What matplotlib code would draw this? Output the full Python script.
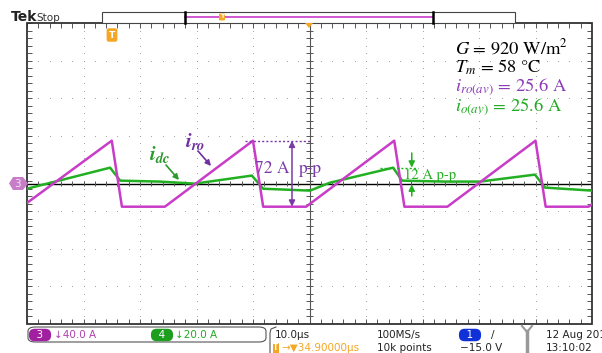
import numpy as np
import matplotlib.pyplot as plt
from matplotlib.patches import Rectangle, FancyBboxPatch, Polygon
from matplotlib.collections import LineCollection

plt.rcParams['mathtext.fontset'] = 'stix'

# screen time 0..100 us (10 us/div), currents in A
ro_t = [0, 15.0, 16.8, 24.4, 40.0, 41.8, 49.4, 65.0, 66.8, 74.4, 90.0, 91.8, 99.4, 100]
ro_a = [-20.5, 45.7, -24.5, -24.5, 45.7, -24.5, -24.5, 45.7, -24.5, -24.5, 45.7, -24.5, -24.5, -21.8]
dc_t = [0, 14.7, 16.5, 23.5, 29.7, 39.8, 41.8, 50.1, 53.6, 64.8, 66.4, 74.0, 80.2, 89.9, 91.7, 100]
dc_a = [-2.7, 8.5, 1.6, 1.1, 0.0, 4.3, -2.7, -3.7, 0.5, 8.5, 1.6, 1.1, 1.1, 4.8, -2.1, -3.7]

ro_scale = 40.0   # A/div, channel 3
dc_scale = 20.0   # A/div, channel 4
zero_div = -0.27  # ground level of both channels

W, H = 602, 353
fig = plt.figure(figsize=(W / 100, H / 100), dpi=100)
fig.patch.set_facecolor('white')

# screen area in pixels
L, T, R, B = 27, 23, 592, 324
ax = fig.add_axes([L / W, 1 - B / H, (R - L) / W, (B - T) / H])
ax.set_xlim(0, 100)
ax.set_ylim(-4, 4)
ax.axis('off')


def F(x, y):
    # figure pixel -> figure fraction
    return x / W, 1 - y / H


def P(x, y):
    # figure pixel -> data coords of the screen
    return (x - L) / (R - L) * 100, ((T + B) / 2 - y) / ((B - T) / 8)


# graticule dots
gx, gy = [], []
for k in range(1, 10):
    if k == 5:
        continue
    for yy in np.arange(-4, 4.01, 0.2):
        gx.append(k * 10)
        gy.append(yy)
for k in [-3, -2, -1, 1, 2, 3]:
    for xx in np.arange(0, 100.1, 2):
        gx.append(xx)
        gy.append(k)
ax.scatter(gx, gy, s=0.6, color='#9a9a9a', linewidths=0, zorder=1)

# center vertical line and zero line with ticks
ax.plot([50, 50], [-4, 4], color='#555555', lw=0.8, zorder=2)
ax.plot([0, 100], [zero_div, zero_div], color='black', lw=1.0, zorder=2)
segs = []
for yy in np.arange(-4, 4.01, 0.2):
    segs.append([(49.3, yy), (50.7, yy)])
    segs.append([(0, yy), (0.9, yy)])
    segs.append([(99.1, yy), (100, yy)])
for xx in np.arange(0, 100.1, 2):
    segs.append([(xx, zero_div - 0.07), (xx, zero_div + 0.07)])
    segs.append([(xx, 4), (xx, 3.88)])
    segs.append([(xx, -4), (xx, -3.88)])
ax.add_collection(LineCollection(segs, colors='#555555', linewidths=0.7, zorder=2))
ax.add_patch(Rectangle((0, -4), 100, 8, fill=False, ec='#333333', lw=1.3, zorder=3,
                       clip_on=False))

# traces
green = '#22b022'
magenta = '#c83cc8'
ax.plot(dc_t, zero_div + np.array(dc_a) / dc_scale, color=green, lw=1.8, zorder=4)
ax.plot(ro_t, zero_div + np.array(ro_a) / ro_scale, color=magenta, lw=1.8, zorder=5)

# 72 A p-p annotation
violet = '#7a3aa8'
ro_hi = zero_div + max(ro_a) / ro_scale
ro_lo = zero_div + min(ro_a) / ro_scale
ax.plot([38.6, 50.0], [ro_hi, ro_hi], ls=(0, (1.5, 1.5)), color=violet, lw=1.0, zorder=6)
ax.annotate('', xy=(46.9, ro_hi), xytext=(46.9, ro_lo),
            arrowprops=dict(arrowstyle='<|-|>', color=violet, lw=1.1,
                            mutation_scale=9, shrinkA=0, shrinkB=0), zorder=6)
ax.text(46.4, P(0, 173)[1], '72 A', ha='right', va='baseline', color=violet,
        fontsize=12.5, family='STIXGeneral', zorder=6)
ax.text(48.1, P(0, 173)[1], 'p-p', ha='left', va='baseline', color=violet,
        fontsize=12.5, family='STIXGeneral', zorder=6)

# 12 A p-p annotation
dc_hi = zero_div + max(dc_a) / dc_scale
ax.plot([62.5, 69.2], [dc_hi, dc_hi], ls=(0, (1.5, 1.5)), color=green, lw=1.0, zorder=6)
ax.annotate('', xy=(68.1, dc_hi), xytext=(68.1, P(0, 153)[1]),
            arrowprops=dict(arrowstyle='-|>', color=green, lw=1.1,
                            mutation_scale=9, shrinkA=0, shrinkB=0), zorder=6)
ax.annotate('', xy=(68.1, P(0, 184.5)[1]), xytext=(68.1, P(0, 196)[1]),
            arrowprops=dict(arrowstyle='-|>', color=green, lw=1.1,
                            mutation_scale=9, shrinkA=0, shrinkB=0), zorder=6)
ax.text(66.7, P(0, 179)[1], '12 A p-p', ha='left', va='baseline', color=green,
        fontsize=10.5, family='STIXGeneral', zorder=6)

# trace labels
ax.text(*P(185, 147), r'$\mathbfit{i_{ro}}$', color='#7030a0', fontsize=15,
        va='baseline', zorder=7)
ax.annotate('', xy=P(211, 166), xytext=P(198, 151),
            arrowprops=dict(arrowstyle='-|>', color='#7030a0', lw=1.2,
                            mutation_scale=8, shrinkA=0, shrinkB=0), zorder=7)
ax.text(*P(149, 160), r'$\mathbfit{i_{dc}}$', color='#2a9a2a', fontsize=15,
        va='baseline', zorder=7)
ax.annotate('', xy=P(179, 180), xytext=P(166, 165),
            arrowprops=dict(arrowstyle='-|>', color='#2a9a2a', lw=1.2,
                            mutation_scale=8, shrinkA=0, shrinkB=0), zorder=7)

# operating point block
info = [(r'$G$ = 920 W/m$^2$', 'black', 54),
        (r'$T_m$ = 58 °C', 'black', 73),
        (r'$i_{ro(av)}$ = 25.6 A', '#8a3ab8', 91),
        (r'$i_{o(av)}$ = 25.6 A', '#22aa22', 111)]
for s, c, yb in info:
    fig.text(*F(455, yb), s, color=c, fontsize=13.3, family='STIXGeneral', va='baseline')

# --- scope chrome ---
fig.text(*F(11, 21), 'Tek', fontsize=10, fontweight='bold', va='baseline', color='#222222')
fig.text(*F(36, 21), 'Stop', fontsize=7.5, va='baseline', color='#333333')

fig.add_artist(Rectangle(F(102, 23), 413 / W, 11 / H, transform=fig.transFigure,
                         fill=True, fc='white', ec='#444444', lw=0.8))
fig.add_artist(plt.Line2D([185 / W, 433 / W], [1 - 17 / H] * 2, color=magenta, lw=1.2,
                          transform=fig.transFigure))
for xb in (185, 433):
    fig.add_artist(plt.Line2D([xb / W] * 2, [1 - 12 / H, 1 - 23 / H], color='black',
                              lw=1.8, transform=fig.transFigure))

orange = '#f5a623'
fig.text(*F(222, 17), 'T', fontsize=4.5, color='white', ha='center', va='center',
         fontweight='bold', bbox=dict(boxstyle='round,pad=0.15', fc=orange, ec='none'))
fig.text(*F(112, 35), 'T', fontsize=6.5, color='white', ha='center', va='center',
         fontweight='bold', bbox=dict(boxstyle='round,pad=0.25', fc=orange, ec='none'))
fig.add_artist(Polygon([F(305, 23), F(313, 23), F(309, 28)], closed=True, fc=orange,
                       ec='none', transform=fig.transFigure))

# channel 3 ground marker
fig.add_artist(Polygon([F(13, 177), F(23, 177), F(28, 183.5), F(23, 190), F(13, 190),
                        F(9, 183.5)], closed=True, fc='#c77dc7', ec='none',
                       transform=fig.transFigure, zorder=8))
fig.text(*F(17, 184), '3', fontsize=7.5, color='#f6e6f6', ha='center', va='center',
         zorder=9)

# bottom status boxes
fig.add_artist(FancyBboxPatch(F(28, 342), 238 / W, 15 / H,
                              boxstyle='round,pad=0,rounding_size=0.012',
                              transform=fig.transFigure, fc='white', ec='#555555', lw=0.8))
fig.add_artist(plt.Line2D([276 / W, 271 / W, 270 / W, 270 / W],
                          [1 - 327 / H, 1 - 329 / H, 1 - 333 / H, 1 - 353 / H],
                          color='#555555', lw=0.8, transform=fig.transFigure))

pill = dict(boxstyle='round,pad=0.12,rounding_size=0.55', ec='none')
fig.text(*F(40, 335), '  3  ', fontsize=7.5, color='white', ha='center', va='center',
         bbox=dict(pill, fc='#a020a0'))
fig.text(*F(54, 335), '↓40.0 A', fontsize=7.5, color='#b040b0', va='center')
fig.text(*F(162, 335), '  4  ', fontsize=7.5, color='white', ha='center', va='center',
         bbox=dict(pill, fc='#1e9e1e'))
fig.text(*F(175, 335), '↓20.0 A', fontsize=7.5, color='#22aa22', va='center')

row1, row2 = 335, 348
fig.text(*F(275, row1), '10.0µs', fontsize=7.5, color='#222222', va='center')
fig.text(*F(276, row2), 'T', fontsize=5.5, color='white', ha='center', va='center',
         fontweight='bold', bbox=dict(boxstyle='square,pad=0.1', fc=orange, ec='none'))
fig.text(*F(281, row2), '→▼34.90000µs', fontsize=7.5, color=orange, va='center')
fig.text(*F(377, row1), '100MS/s', fontsize=7.5, color='#222222', va='center')
fig.text(*F(377, row2), '10k points', fontsize=7.5, color='#222222', va='center')
fig.text(*F(470, row1), '  1  ', fontsize=7.5, color='white', ha='center', va='center',
         bbox=dict(pill, fc='#1030d8'))
fig.text(*F(491, row1), '/', fontsize=7.5, color='#222222', va='center')
fig.text(*F(460, row2), '−15.0 V', fontsize=7.5, color='#222222', va='center')
fig.add_artist(plt.Line2D([527 / W] * 2, [1 - 331 / H, 0], color='#999999', lw=2.5,
                          transform=fig.transFigure))
fig.add_artist(plt.Line2D([522 / W, 527 / W, 532 / W], [1 - 326 / H, 1 - 332 / H, 1 - 326 / H],
                          color='#999999', lw=1.5, transform=fig.transFigure))
fig.text(*F(546, row1), '12 Aug 201', fontsize=7.5, color='#222222', va='center')
fig.text(*F(546, row2), '13:10:02', fontsize=7.5, color='#222222', va='center')

fig.savefig('out.png', dpi=100)
